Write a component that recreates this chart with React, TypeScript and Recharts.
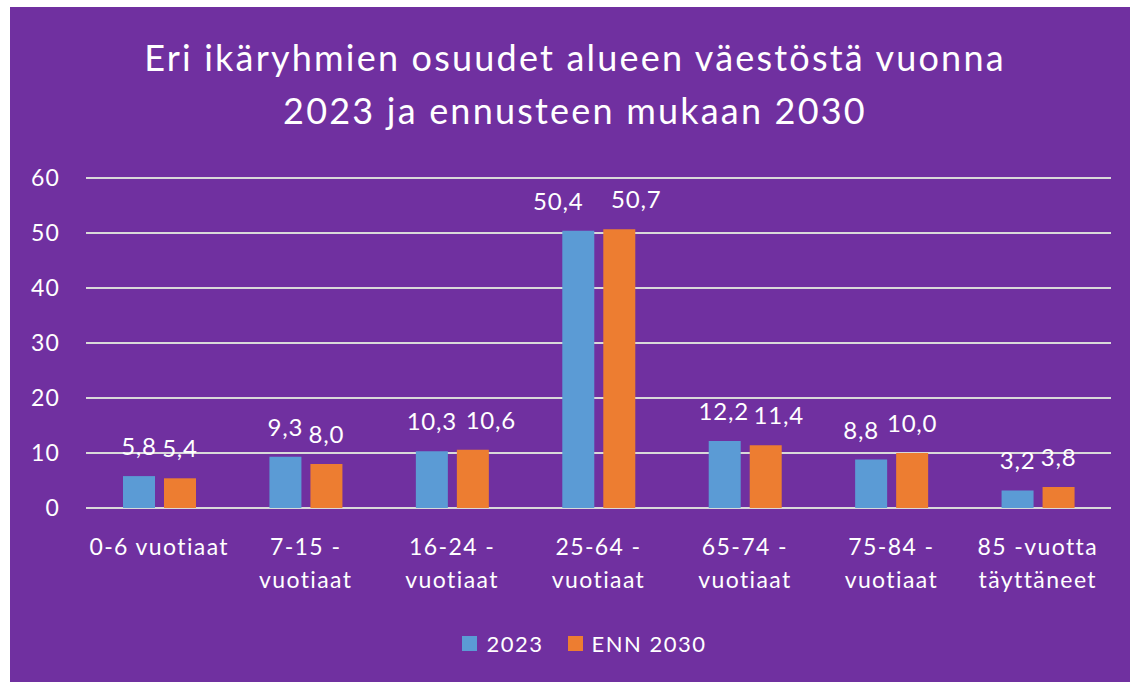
import React from 'react';
import { BarChart, Bar, XAxis, YAxis, CartesianGrid, Legend, LabelList } from 'recharts';

const categories = [
  '0-6 vuotiaat',
  '7-15 -\nvuotiaat',
  '16-24 -\nvuotiaat',
  '25-64 -\nvuotiaat',
  '65-74 -\nvuotiaat',
  '75-84 -\nvuotiaat',
  '85 -vuotta\ntäyttäneet',
];
const values2023 = [5.8, 9.3, 10.3, 50.4, 12.2, 8.8, 3.2];
const valuesEnn2030 = [5.4, 8.0, 10.6, 50.7, 11.4, 10.0, 3.8];
const yTicks = [0, 10, 20, 30, 40, 50, 60];

// sideways nudges of the value labels (the original pushes colliding labels apart)
const nudge2023 = [0, 0, 0, -20, -1, -10, 0];
const nudgeEnn2030 = [0, 0, 18, 17, 13, 0, 0];

const data = categories.map((name, i) => ({
  name,
  y2023: values2023[i],
  enn2030: valuesEnn2030[i],
}));

const FONT = 'Lato, "Open Sans", sans-serif';
const PURPLE = '#7030A0';
const BLUE = '#5B9BD5';
const ORANGE = '#ED7D31';

const fmt = (v: any) => Number(v).toFixed(1).replace('.', ',');

const makeValueLabel = (nudges: number[]) => (props: any) => {
  const { x, y, width, value, index } = props;
  const dx = nudges[index] ?? 0;
  return (
    <text
      x={Number(x) + Number(width) / 2 + dx}
      y={Number(y) - 21}
      textAnchor="middle"
      fill="#fff"
      fontSize={24}
      letterSpacing={0.8}
      fontFamily={FONT}
    >
      {fmt(value)}
    </text>
  );
};

const CategoryTick = (props: any) => {
  const { x, y, payload } = props;
  const lines = String(payload.value).split('\n');
  return (
    <text x={x} y={y} textAnchor="middle" fill="#fff" fontSize={23} letterSpacing={1.4} fontFamily={FONT}>
      {lines.map((l, i) => (
        <tspan key={i} x={x} dy={i === 0 ? 39 : 33}>{l}</tspan>
      ))}
    </text>
  );
};

const LegendContent = () => {
  const items = [
    { label: '2023', color: BLUE },
    { label: 'ENN 2030', color: ORANGE },
  ];
  return (
    <div style={{ display: 'flex', justifyContent: 'center', gap: 24, paddingLeft: 22, fontFamily: FONT, fontSize: 22, letterSpacing: 1.5, color: '#fff' }}>
      {items.map((it) => (
        <div key={it.label} style={{ display: 'flex', alignItems: 'center', gap: 9 }}>
          <div style={{ width: 15, height: 15, background: it.color }} />
          <span>{it.label}</span>
        </div>
      ))}
    </div>
  );
};

export default function App() {
  return (
    <div style={{ position: 'absolute', left: 0, top: 0, width: 1130, height: 682, background: '#fff' }}>
      <div style={{ position: 'absolute', left: 10, top: 7, width: 1120, height: 675, background: PURPLE }}>
        <div
          style={{
            position: 'absolute',
            left: 0,
            top: 24,
            width: 1130,
            textAlign: 'center',
            color: '#fff',
            fontFamily: FONT,
            fontSize: 36,
            letterSpacing: 2.2,
            lineHeight: '53px',
          }}
        >
          Eri ikäryhmien osuudet alueen väestöstä vuonna
          <br />
          2023 ja ennusteen mukaan 2030
        </div>
        <BarChart
          width={1120}
          height={675}
          data={data}
          margin={{ top: 171, right: 19, bottom: 74, left: 26 }}
          barSize={32}
          barGap={9}
        >
          <CartesianGrid vertical={false} stroke="#D9D9D9" strokeWidth={2} />
          <XAxis
            dataKey="name"
            tick={<CategoryTick />}
            tickLine={false}
            axisLine={false}
            interval={0}
            height={70}
          />
          <YAxis
            domain={[0, 60]}
            ticks={yTicks}
            tickLine={false}
            axisLine={false}
            tickSize={0}
            tickMargin={26}
            width={50}
            tick={{ fill: '#fff', fontSize: 23, fontFamily: FONT, letterSpacing: 1.2 }}
          />
          <Legend verticalAlign="bottom" height={30} wrapperStyle={{ top: 623 }} content={<LegendContent />} />
          <Bar dataKey="y2023" name="2023" fill={BLUE} isAnimationActive={false}>
            <LabelList dataKey="y2023" content={makeValueLabel(nudge2023)} />
          </Bar>
          <Bar dataKey="enn2030" name="ENN 2030" fill={ORANGE} isAnimationActive={false}>
            <LabelList dataKey="enn2030" content={makeValueLabel(nudgeEnn2030)} />
          </Bar>
        </BarChart>
      </div>
    </div>
  );
}
